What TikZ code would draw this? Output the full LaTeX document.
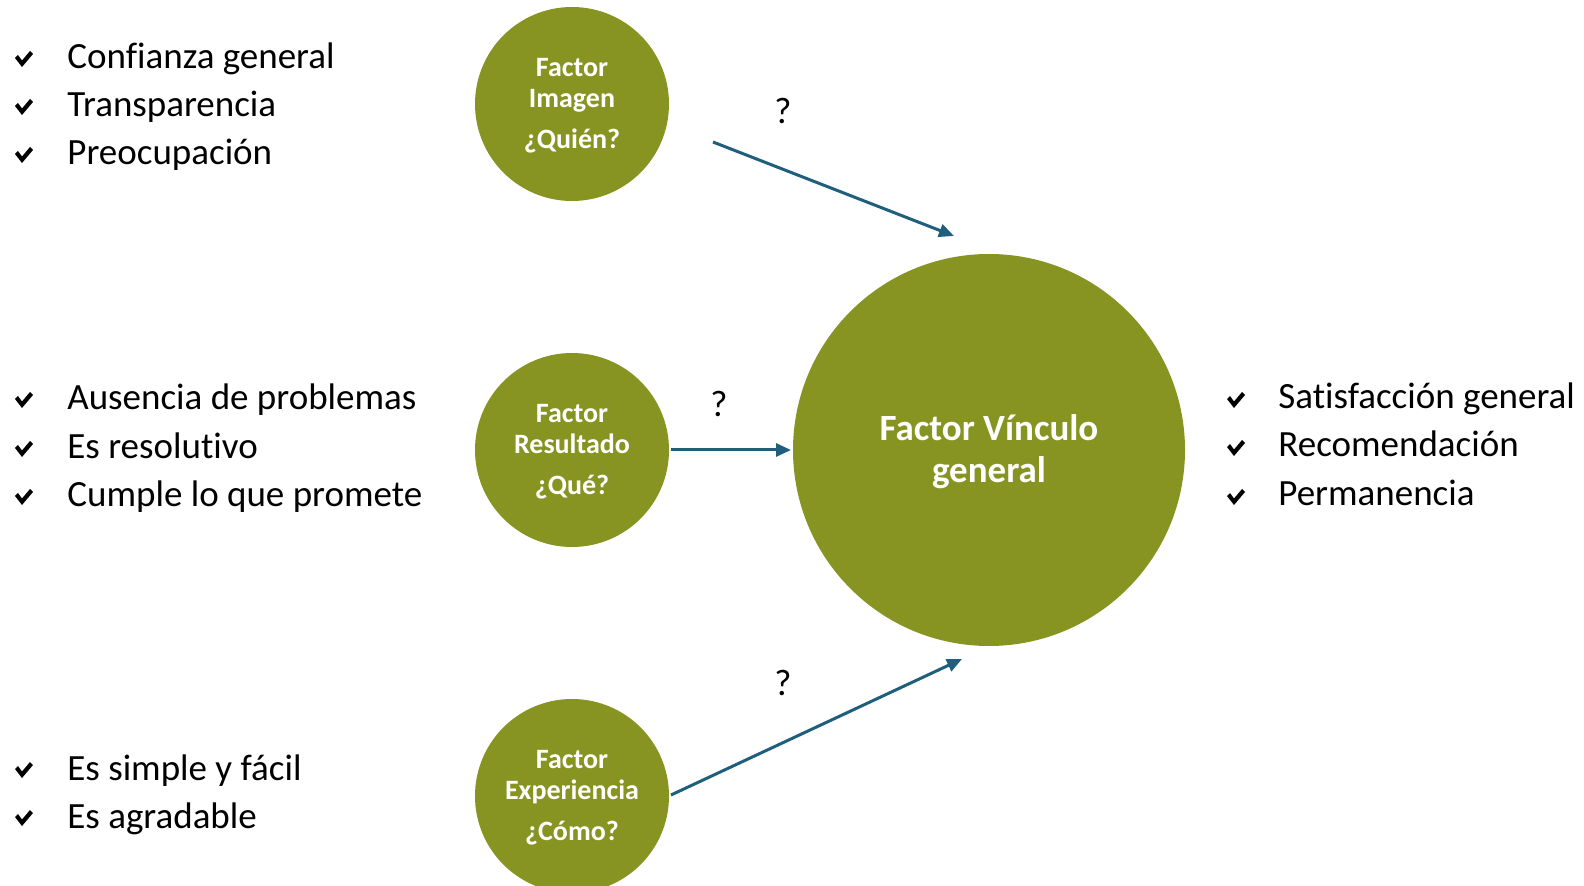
\documentclass[tikz,border=0pt]{standalone}
\usepackage{fontspec}
\setmainfont{Carlito}[Ligatures=NoCommon]
\usetikzlibrary{arrows.meta}
\definecolor{olivegreen}{RGB}{135,148,34}
\definecolor{arrowblue}{RGB}{31,94,124}
\tikzset{
  factor/.style={circle, fill=olivegreen, inner sep=0pt, minimum size=97pt},
  bigfactor/.style={circle, fill=olivegreen, inner sep=0pt, minimum size=196pt},
  factortext/.style={text=white, align=center, inner sep=0pt, yshift=-1pt,
    font=\fontsize{14}{15.5}\selectfont\bfseries},
  bigtext/.style={text=white, align=center, inner sep=0pt, yshift=-1pt,
    font=\fontsize{18.5}{21}\selectfont\bfseries},
  item/.style={anchor=base west, inner sep=0pt, font=\fontsize{18.5}{22}\selectfont},
  qmark/.style={anchor=base, inner sep=0pt, font=\fontsize{18.5}{22}\selectfont},
  link/.style={draw=arrowblue, line width=1.5pt, -{Triangle[length=7.5pt,width=6.5pt]}},
  checkmark/.pic={\fill[black] (0,-9) -- (3,-12) -- (7,-6.5) -- (15,-16) -- (18,-13) -- (7,0) -- cycle;}
}
\begin{document}
\begin{tikzpicture}[x=0.5pt,y=-0.5pt]
\useasboundingbox (0,0) rectangle (1584,886);
\clip (0,0) rectangle (1584,886);
% circles
\node[factor] (img) at (572,104) {};
\node[factortext] (imgt) at (img.center) {Factor\\Imagen\\[5pt]¿Quién?};
\node[factor] (res) at (572,450) {};
\node[factortext] (rest) at (res.center) {Factor\\Resultado\\[5pt]¿Qué?};
\node[factor] (exp) at (572,796) {};
\node[factortext] (expt) at (exp.center) {Factor\\Experiencia\\[5pt]¿Cómo?};
\node[bigfactor] (big) at (989,450) {};
\node[bigtext] (bigt) at (big.center) {Factor Vínculo\\general};
% arrow endpoints
\coordinate (a1s) at (713,142);
\coordinate (a1e) at (954,236);
\coordinate (a2s) at (671,450);
\coordinate (a2e) at (791,450);
\coordinate (a3s) at (671,795);
\coordinate (a3e) at (962,659);
\draw[link] (a1s) -- (a1e);
\draw[link] (a2s) -- (a2e);
\draw[link] (a3s) -- (a3e);
% question marks
\node[qmark] (q1) at (783,124) {?};
\node[qmark] (q2) at (719,417) {?};
\node[qmark] (q3) at (783,696) {?};
% left lists
\pic at (15,67) {checkmark};
\node[item] (l1) at (67,69) {Confianza general};
\pic at (15,115) {checkmark};
\node[item] (l2) at (67,117) {Transparencia};
\pic at (15,163) {checkmark};
\node[item] (l3) at (67,165) {Preocupación};
\pic at (15,408) {checkmark};
\node[item] (l4) at (67,410) {Ausencia de problemas};
\pic at (15,457) {checkmark};
\node[item] (l5) at (67,459) {Es resolutivo};
\pic at (15,505) {checkmark};
\node[item] (l6) at (67,507) {Cumple lo que promete};
\pic at (15,778) {checkmark};
\node[item] (l7) at (67,780) {Es simple y fácil};
\pic at (15,826) {checkmark};
\node[item] (l8) at (67,828) {Es agradable};
% right list
\pic at (1227,408) {checkmark};
\node[item] (r1) at (1278,409) {Satisfacción general};
\pic at (1227,456) {checkmark};
\node[item] (r2) at (1278,457) {Recomendación};
\pic at (1227,505) {checkmark};
\node[item] (r3) at (1278,506) {Permanencia};
\end{tikzpicture}
\end{document}
